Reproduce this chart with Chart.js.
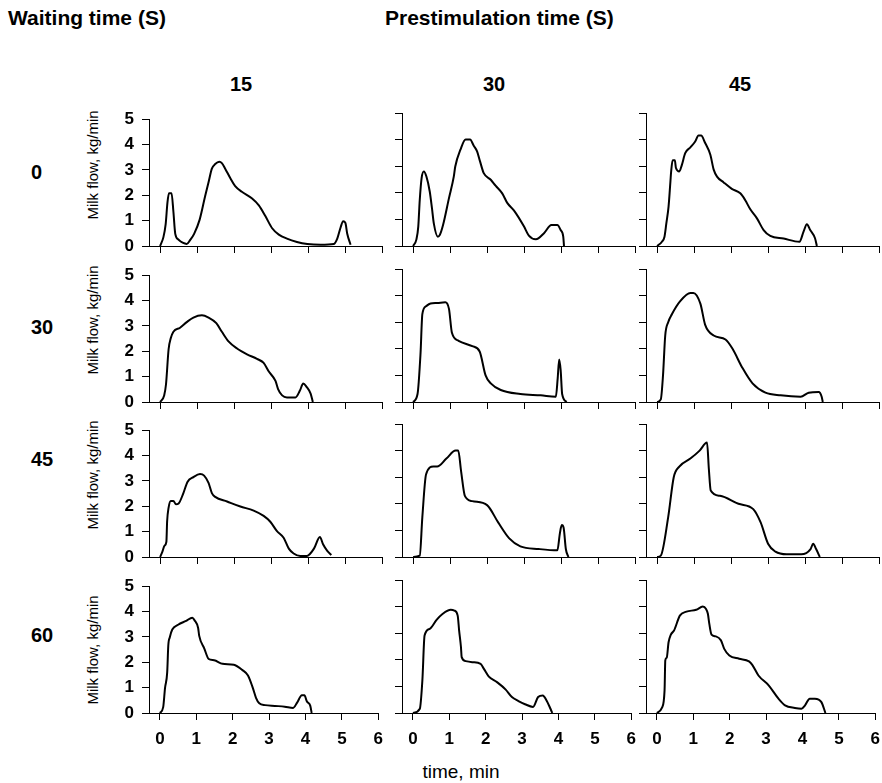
<!DOCTYPE html>
<html>
<head>
<meta charset="utf-8">
<script src="https://cdn.jsdelivr.net/npm/chart.js@4.4.1/dist/chart.umd.min.js"></script>
<style>
  body { margin: 0; background: #fff; }
  #wrap { position: relative; width: 882px; height: 783px; overflow: hidden;
          font-family: "Liberation Sans", Arial, sans-serif; color: #000; }
  #wrap canvas { position: absolute; }
  .lbl { position: absolute; white-space: nowrap; line-height: 1; }
  .c { transform: translate(-50%, -50%); }
  .b { font-weight: bold; }
</style>
</head>
<body>
<div id="wrap">
  <div class="lbl b" style="left:8px;top:7px;font-size:21px;">Waiting time (S)</div>
  <div class="lbl b" style="left:385px;top:7px;font-size:21px;">Prestimulation time (S)</div>
  <div class="lbl" id="xTitle" style="left:461px;top:771px;font-size:19px;">time, min</div>
</div>
<script>
// rows = waiting time, columns = prestimulation time
const waitTimes = [0, 30, 45, 60];
const prestimTimes = [15, 30, 45];
const timeTicks = [0, 1, 2, 3, 4, 5, 6];
const flowTicks = [0, 1, 2, 3, 4, 5];

// milk flow curves, [time min, flow kg/min]
const w0_p15 = [[0,0],[0.09,0.35],[0.15,0.85],[0.2,1.73],[0.24,2.08],[0.31,2.08],[0.36,1.35],[0.41,0.48],[0.5,0.25],[0.61,0.13],[0.72,0.08],[0.81,0.23],[0.92,0.48],[1.07,1.04],[1.22,1.98],[1.31,2.51],[1.4,3.05],[1.49,3.23],[1.6,3.32],[1.67,3.27],[1.76,3.05],[1.9,2.67],[2.03,2.36],[2.21,2.14],[2.48,1.88],[2.67,1.6],[2.85,1.17],[3.03,0.7],[3.21,0.45],[3.43,0.29],[3.7,0.16],[3.98,0.08],[4.34,0.05],[4.7,0.08],[4.79,0.29],[4.88,0.73],[4.95,0.98],[5.01,0.91],[5.06,0.48],[5.15,0.05]];
const w0_p30 = [[0,0],[0.09,0.25],[0.14,0.73],[0.18,1.73],[0.23,2.55],[0.29,2.8],[0.36,2.61],[0.45,2.05],[0.51,1.42],[0.56,0.85],[0.67,0.35],[0.72,0.41],[0.81,0.79],[0.97,1.8],[1.1,2.61],[1.14,2.99],[1.28,3.62],[1.42,4.0],[1.54,4.0],[1.64,3.77],[1.73,3.56],[1.81,3.18],[1.91,2.74],[2.1,2.49],[2.23,2.27],[2.41,1.98],[2.55,1.61],[2.73,1.33],[3.0,0.73],[3.13,0.39],[3.32,0.25],[3.54,0.48],[3.74,0.79],[3.9,0.79],[3.99,0.6],[4.06,0.35],[4.08,0]];
const w0_p45 = [[0,0],[0.13,0.16],[0.2,0.35],[0.25,0.85],[0.31,1.48],[0.36,2.42],[0.38,2.8],[0.42,3.22],[0.48,3.22],[0.51,2.93],[0.6,2.8],[0.67,3.05],[0.76,3.49],[0.9,3.71],[1.03,3.93],[1.12,4.15],[1.19,4.15],[1.3,3.87],[1.44,3.43],[1.53,2.87],[1.62,2.61],[1.8,2.39],[2.02,2.15],[2.25,1.98],[2.38,1.73],[2.52,1.38],[2.7,1.04],[2.88,0.6],[3.06,0.38],[3.42,0.28],[3.85,0.16],[3.96,0.54],[4.05,0.82],[4.14,0.6],[4.27,0.29],[4.32,0]];
const w30_p15 = [[0,0],[0.11,0.26],[0.16,0.7],[0.23,2.08],[0.29,2.52],[0.36,2.77],[0.54,2.93],[0.72,3.15],[0.9,3.33],[1.13,3.42],[1.31,3.33],[1.52,3.11],[1.67,2.77],[1.85,2.39],[2.08,2.11],[2.35,1.88],[2.62,1.7],[2.8,1.54],[2.94,1.2],[3.12,0.83],[3.19,0.51],[3.3,0.26],[3.43,0.18],[3.66,0.18],[3.78,0.45],[3.87,0.73],[3.96,0.6],[4.07,0.33],[4.13,0]];
const w30_p30 = [[0,0],[0.12,0.3],[0.2,1.8],[0.25,3.3],[0.35,3.6],[0.47,3.7],[0.65,3.72],[0.87,3.75],[0.97,3.5],[1.05,2.6],[1.23,2.3],[1.6,2.1],[1.8,1.9],[1.96,1.0],[2.1,0.7],[2.37,0.45],[2.9,0.3],[3.45,0.25],[3.86,0.2],[3.91,0.9],[3.95,1.6],[3.99,1.2],[4.03,0.3],[4.15,0]];
const w30_p45 = [[0,0],[0.1,0.1],[0.16,1.0],[0.22,2.5],[0.3,3.0],[0.4,3.3],[0.63,3.8],[0.9,4.1],[0.98,4.1],[1.17,3.7],[1.3,2.9],[1.53,2.5],[1.85,2.35],[2.04,2.0],[2.3,1.3],[2.58,0.7],[2.93,0.35],[3.34,0.25],[3.88,0.2],[4.1,0.35],[4.37,0.38],[4.45,0.2],[4.48,0]];
const w45_p15 = [[0,0],[0.06,0.2],[0.12,0.45],[0.17,0.6],[0.19,1.4],[0.23,1.95],[0.29,2.21],[0.36,2.21],[0.43,2.08],[0.5,2.11],[0.63,2.52],[0.74,2.96],[0.9,3.15],[1.08,3.27],[1.19,3.21],[1.31,2.92],[1.4,2.52],[1.49,2.37],[1.81,2.19],[2.17,1.99],[2.53,1.83],[2.8,1.62],[2.98,1.39],[3.16,1.02],[3.34,0.76],[3.48,0.33],[3.61,0.14],[3.79,0.04],[3.97,0.04],[4.16,0.33],[4.32,0.79],[4.41,0.49],[4.52,0.24],[4.63,0.08]];
const w45_p30 = [[0,0],[0.18,0.05],[0.25,1.5],[0.35,3.1],[0.55,3.4],[0.65,3.4],[0.9,3.7],[1.15,4.0],[1.22,4.0],[1.3,3.2],[1.4,2.3],[1.6,2.1],[2.0,1.95],[2.3,1.3],[2.6,0.7],[2.9,0.4],[3.4,0.3],[3.9,0.25],[3.97,0.9],[4.02,1.2],[4.07,1.1],[4.13,0.3],[4.2,0]];
const w45_p45 = [[0,0],[0.1,0.05],[0.3,1.5],[0.45,3.0],[0.6,3.4],[0.9,3.7],[1.15,4.0],[1.35,4.3],[1.4,3.3],[1.45,2.5],[1.7,2.3],[2.2,2.0],[2.6,1.8],[2.8,1.3],[3.0,0.5],[3.2,0.2],[3.5,0.1],[3.9,0.1],[4.15,0.3],[4.22,0.5],[4.3,0.3],[4.4,0]];
const w60_p15 = [[0,0],[0.09,0.23],[0.14,0.98],[0.2,1.6],[0.23,2.66],[0.27,2.98],[0.34,3.29],[0.5,3.48],[0.72,3.63],[0.89,3.76],[0.95,3.66],[1.05,3.35],[1.08,3.04],[1.22,2.54],[1.34,2.13],[1.49,2.08],[1.72,1.94],[2.03,1.9],[2.26,1.7],[2.42,1.48],[2.55,1.0],[2.64,0.6],[2.73,0.38],[2.89,0.31],[3.16,0.28],[3.43,0.25],[3.66,0.2],[3.77,0.41],[3.9,0.7],[3.97,0.7],[4.04,0.45],[4.13,0.29],[4.17,0]];
const w60_p30 = [[0,0],[0.19,0.16],[0.26,1.23],[0.32,2.91],[0.46,3.16],[0.65,3.5],[0.82,3.73],[1.04,3.88],[1.14,3.85],[1.23,3.66],[1.27,3.1],[1.32,2.48],[1.34,2.1],[1.45,1.95],[1.63,1.91],[1.86,1.85],[1.95,1.66],[2.08,1.38],[2.31,1.16],[2.55,0.88],[2.72,0.6],[2.9,0.45],[3.08,0.33],[3.3,0.23],[3.44,0.6],[3.57,0.66],[3.66,0.5],[3.78,0.16],[3.83,0]];
const w60_p45 = [[0,0],[0.14,0.2],[0.21,0.85],[0.23,1.98],[0.27,2.08],[0.32,2.66],[0.38,2.94],[0.47,3.1],[0.63,3.66],[0.81,3.81],[1.08,3.88],[1.26,4.0],[1.35,3.91],[1.4,3.73],[1.44,3.35],[1.5,2.95],[1.62,2.88],[1.76,2.73],[1.85,2.41],[1.99,2.16],[2.26,2.04],[2.53,1.94],[2.62,1.81],[2.79,1.41],[3.07,1.04],[3.34,0.54],[3.52,0.29],[3.79,0.19],[3.97,0.16],[4.07,0.29],[4.2,0.54],[4.34,0.54],[4.52,0.41],[4.63,0]];

const curves = [
  [w0_p15, w0_p30, w0_p45],
  [w30_p15, w30_p30, w30_p45],
  [w45_p15, w45_p30, w45_p45],
  [w60_p15, w60_p30, w60_p45]
];

// panel geometry (plot area in page pixels)
const colLeft = [149, 402, 646];
const rowTop = [113, 269, 424, 580];
const plotW = 233, plotH = 133;
const padL = 60, padT = 12, padR = 10, padB = 40;

const headerX = [241, 494, 740];
const rowLabelY = [172, 327, 459, 635];
const yTitleY = [165, 320, 475, 650];

Chart.defaults.font.family = '"Liberation Sans", Arial, sans-serif';
Chart.defaults.color = '#000';

const wrap = document.getElementById('wrap');
const tickFont = { size: 17, weight: 'bold' };

function addLabel(text, x, y, css) {
  const d = document.createElement('div');
  d.className = 'lbl c ' + (css || '');
  d.textContent = text;
  d.style.left = x + 'px';
  d.style.top = y + 'px';
  wrap.appendChild(d);
  return d;
}

prestimTimes.forEach(function (p, c) {
  addLabel(String(p), headerX[c], 84, 'b').style.fontSize = '20px';
});

waitTimes.forEach(function (w, r) {
  const d = addLabel(String(w), 31, rowLabelY[r], 'b');
  d.style.fontSize = '20px';
  d.style.transform = 'translate(0, -50%)';
  const t = addLabel('Milk flow, kg/min', 92, yTitleY[r]);
  t.style.fontSize = '15px';
  t.style.transform = 'translate(-50%, -50%) rotate(-90deg)';
});

function makePanel(r, c) {
  const cv = document.createElement('canvas');
  cv.width = padL + plotW + padR;
  cv.height = padT + plotH + padB;
  cv.style.left = (colLeft[c] - padL) + 'px';
  cv.style.top = (rowTop[r] - padT) + 'px';
  wrap.appendChild(cv);

  new Chart(cv, {
    type: 'line',
    data: {
      datasets: [{
        data: curves[r][c].map(function (p) { return { x: p[0], y: p[1] }; }),
        borderColor: '#000',
        borderWidth: 2,
        pointRadius: 0,
        fill: false,
        cubicInterpolationMode: 'monotone',
        clip: 4
      }]
    },
    options: {
      responsive: false,
      animation: false,
      events: [],
      layout: { padding: { left: 0, top: padT, right: padR, bottom: 0 } },
      plugins: { legend: { display: false }, tooltip: { enabled: false } },
      scales: {
        x: {
          type: 'linear', min: -0.3, max: 6,
          afterBuildTicks: function (s) { s.ticks = timeTicks.map(function (v) { return { value: v }; }); },
          afterFit: function (s) { s.height = padB; },
          grid: { drawOnChartArea: false, drawTicks: true, tickLength: 7, color: '#000', lineWidth: 1 },
          border: { color: '#000', width: 1 },
          ticks: { display: r === waitTimes.length - 1, font: tickFont, padding: 9, maxRotation: 0, autoSkip: false }
        },
        y: {
          min: 0, max: 5,
          afterBuildTicks: function (s) { s.ticks = flowTicks.map(function (v) { return { value: v }; }); },
          afterFit: function (s) { s.width = padL; },
          grid: { drawOnChartArea: false, drawTicks: true, tickLength: 7, color: '#000', lineWidth: 1 },
          border: { color: '#000', width: 1 },
          ticks: { display: c === 0, font: tickFont, padding: 8 }
        }
      }
    }
  });
}

for (let r = 0; r < waitTimes.length; r++) {
  for (let c = 0; c < prestimTimes.length; c++) makePanel(r, c);
}

document.getElementById('xTitle').classList.add('c');
</script>
</body>
</html>
